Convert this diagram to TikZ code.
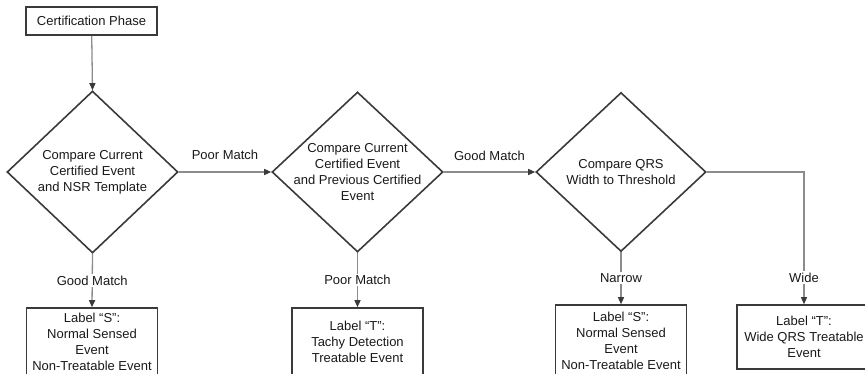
\documentclass[tikz,border=0pt]{standalone}
\usepackage{fontspec}
\setmainfont{Liberation Sans}
\usetikzlibrary{positioning}
\usetikzlibrary{arrows.meta,shapes.geometric}
\definecolor{edgegray}{HTML}{8C8C8C}
\definecolor{boxgray}{HTML}{3A3A3A}

\tikzset{
  startbox/.style={draw=boxgray,line width=1.6pt,minimum width=131pt,minimum height=28pt,inner sep=0pt},
  decision/.style={draw=boxgray,line width=1.6pt,diamond,inner sep=0pt,minimum width=171pt,minimum height=162pt},
  outcome/.style={draw=boxgray,line width=1.6pt,align=center,minimum width=131pt,minimum height=68pt,inner sep=0pt},
  link/.style={draw=edgegray,line width=1.3pt,-{Triangle[length=7pt,width=6pt,color=boxgray]}},
  cut/.style={fill=white,inner sep=1.5pt}
}

\begin{document}
\begin{tikzpicture}[x=1pt,y=1pt,font=\fontsize{13}{16}\selectfont,text=black!90]
  \useasboundingbox (0,0) rectangle (865,-373);
  % top row
  \node (phase) [startbox] at (91.5,-21) {Certification Phase};
  \node (nsr) [decision,label={[align=center]center:{Compare Current\\Certified Event\\and NSR Template}}] at (92.5,-172) {};
  \node (prev) [decision,minimum height=160pt,label={[align=center]center:{Compare Current\\Certified Event\\and Previous Certified\\Event}}] at (357.5,-172) {};
  \node (qrs) [decision,minimum width=170pt,minimum height=159pt,label={[align=center]center:{Compare QRS\\Width to Threshold}}] at (621,-172) {};
  % results
  \node (sensedA) [outcome] at (92,-342) {Label “S”:\\Normal Sensed\\Event\\Non-Treatable Event};
  \node (tachy) [outcome] at (357.5,-342) {Label “T”:\\Tachy Detection\\Treatable Event};
  \node (sensedB) [outcome,minimum height=72pt] at (621,-341) {Label “S”:\\Normal Sensed\\Event\\Non-Treatable Event};
  \node (wide) [outcome,minimum width=134pt,minimum height=64pt] at (804,-337) {Label “T”:\\Wide QRS Treatable\\Event};

  \draw [link] (phase) -- (nsr.north);
  \draw [link] (nsr.east) -- node[midway,yshift=17pt] (l1) {Poor Match} (prev.west);
  \draw [link] (prev.east) -- node[midway,yshift=16pt] (l2) {Good Match} (qrs.west);
  \draw [link] (nsr.south) -- node[cut] (l3) {Good Match} (sensedA.north);
  \draw [link] (prev.south) -- node[cut] (l4) {Poor Match} (tachy.north);
  \draw [link] (qrs.south) -- node[cut] (l5) {Narrow} (sensedB.north);
  \draw [link] (qrs.east) -| node[cut,pos=0.9] (l6) {Wide} (wide.north);
\end{tikzpicture}
\end{document}
